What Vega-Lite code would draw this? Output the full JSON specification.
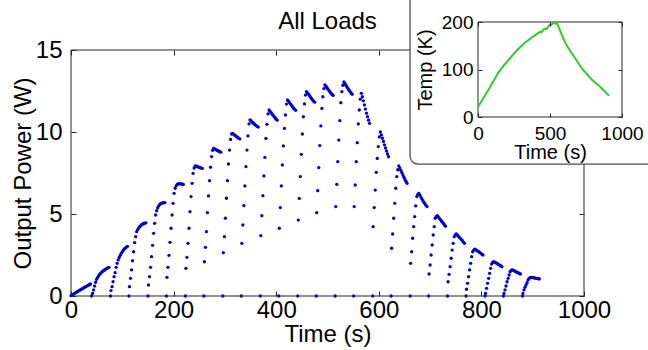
{
  "$schema": "https://vega.github.io/schema/vega-lite/v6.json",
  "width": 513,
  "height": 246,
  "autosize": {"type": "none"},
  "padding": {"left": 71, "top": 50, "right": 64, "bottom": 54},
  "background": "#ffffff",
  "config": {
    "view": {"stroke": null},
    "font": "Liberation Sans",
    "axis": {"grid": false, "domain": false, "labelColor": "#000000", "titleColor": "#000000", "titleFontWeight": "normal", "tickColor": "#262626", "tickWidth": 1, "labelFont": "Liberation Sans", "titleFont": "Liberation Sans", "labelFlush": false, "labelOverlap": false, "format": "d"}
  },
  "datasets": {
    "power": [
      {"t":0,"p":0.02},{"t":2,"p":0.06},{"t":4,"p":0.1},{"t":6,"p":0.14},{"t":8,"p":0.18},{"t":10,"p":0.22},{"t":12,"p":0.26},{"t":14,"p":0.3},{"t":16,"p":0.33},{"t":18,"p":0.37},{"t":20,"p":0.41},{"t":22,"p":0.44},{"t":24,"p":0.48},{"t":26,"p":0.52},{"t":28,"p":0.56},{"t":30,"p":0.59},{"t":32,"p":0.63},{"t":34,"p":0.66},{"t":36,"p":0.7},{"t":38,"p":0.73},
      {"t":40,"p":0},{"t":42,"p":0.16},{"t":44,"p":0.37},{"t":46,"p":0.61},{"t":48,"p":0.84},{"t":50,"p":1.02},{"t":52,"p":1.14},{"t":54,"p":1.24},{"t":56,"p":1.33},{"t":58,"p":1.4},{"t":60,"p":1.46},{"t":62,"p":1.51},{"t":64,"p":1.56},{"t":66,"p":1.6},{"t":68,"p":1.64},{"t":70,"p":1.68},{"t":72,"p":1.72},{"t":74,"p":1.75},
      {"t":77,"p":0},{"t":78,"p":0.33},{"t":80,"p":0.57},{"t":82,"p":0.87},{"t":84,"p":1.18},{"t":86,"p":1.42},{"t":88,"p":1.75},{"t":90,"p":1.99},{"t":92,"p":2.2},{"t":94,"p":2.35},{"t":96,"p":2.48},{"t":98,"p":2.6},{"t":100,"p":2.7},{"t":102,"p":2.79},{"t":104,"p":2.87},{"t":106,"p":2.93},{"t":108,"p":2.98},{"t":110,"p":3.03},
      {"t":113,"p":0},{"t":114,"p":0.57},{"t":116,"p":1.08},{"t":118,"p":1.59},{"t":120,"p":2.15},{"t":122,"p":2.7},{"t":124,"p":3.25},{"t":126,"p":3.62},{"t":128,"p":3.92},{"t":130,"p":4.05},{"t":132,"p":4.15},{"t":134,"p":4.23},{"t":136,"p":4.3},{"t":138,"p":4.35},{"t":140,"p":4.39},{"t":142,"p":4.42},{"t":144,"p":4.44},{"t":146,"p":4.46},
      {"t":150,"p":0},{"t":151,"p":0.67},{"t":153,"p":1.18},{"t":155,"p":1.75},{"t":157,"p":2.4},{"t":159,"p":3.09},{"t":161,"p":3.82},{"t":163,"p":4.43},{"t":165,"p":4.94},{"t":167,"p":5.2},{"t":169,"p":5.38},{"t":171,"p":5.5},{"t":173,"p":5.58},{"t":175,"p":5.63},{"t":177,"p":5.66},{"t":179,"p":5.68},{"t":181,"p":5.69},{"t":183,"p":5.69},
      {"t":186,"p":0},{"t":187,"p":1.14},{"t":189,"p":1.75},{"t":191,"p":2.48},{"t":193,"p":3.27},{"t":195,"p":4.13},{"t":197,"p":4.94},{"t":199,"p":5.65},{"t":201,"p":6.26},{"t":203,"p":6.57},{"t":205,"p":6.72},{"t":207,"p":6.8},{"t":209,"p":6.84},{"t":211,"p":6.85},{"t":213,"p":6.84},{"t":215,"p":6.83},{"t":217,"p":6.82},{"t":219,"p":6.8},
      {"t":223,"p":0},{"t":224,"p":1.69},{"t":226,"p":2.36},{"t":228,"p":3.21},{"t":230,"p":4.13},{"t":232,"p":5.14},{"t":234,"p":6.06},{"t":236,"p":6.87},{"t":238,"p":7.48},{"t":240,"p":7.8},{"t":242,"p":7.93},{"t":244,"p":7.92},{"t":246,"p":7.9},{"t":248,"p":7.87},{"t":250,"p":7.84},{"t":252,"p":7.82},{"t":254,"p":7.8},{"t":256,"p":7.78},
      {"t":259,"p":0},{"t":260,"p":2.09},{"t":262,"p":2.97},{"t":264,"p":3.92},{"t":266,"p":5.08},{"t":268,"p":6.1},{"t":270,"p":7.03},{"t":272,"p":7.85},{"t":274,"p":8.5},{"t":276,"p":8.88},{"t":278,"p":9.0},{"t":280,"p":8.97},{"t":282,"p":8.94},{"t":284,"p":8.9},{"t":286,"p":8.86},{"t":288,"p":8.83},{"t":290,"p":8.8},{"t":292,"p":8.77},
      {"t":296,"p":0},{"t":297,"p":2.64},{"t":299,"p":3.62},{"t":301,"p":4.74},{"t":303,"p":5.96},{"t":305,"p":7.03},{"t":307,"p":8.05},{"t":309,"p":8.9},{"t":311,"p":9.55},{"t":313,"p":9.88},{"t":315,"p":9.92},{"t":317,"p":9.87},{"t":319,"p":9.81},{"t":321,"p":9.76},{"t":323,"p":9.71},{"t":325,"p":9.66},{"t":327,"p":9.62},{"t":329,"p":9.58},
      {"t":332,"p":0},{"t":333,"p":3.21},{"t":335,"p":4.33},{"t":337,"p":5.51},{"t":339,"p":6.71},{"t":341,"p":7.89},{"t":343,"p":8.9},{"t":345,"p":9.76},{"t":347,"p":10.5},{"t":349,"p":10.73},{"t":351,"p":10.67},{"t":353,"p":10.61},{"t":355,"p":10.55},{"t":357,"p":10.49},{"t":359,"p":10.44},{"t":361,"p":10.39},{"t":363,"p":10.34},{"t":365,"p":10.3},
      {"t":369,"p":0},{"t":370,"p":3.68},{"t":372,"p":4.9},{"t":374,"p":6.12},{"t":376,"p":7.32},{"t":378,"p":8.45},{"t":380,"p":9.61},{"t":382,"p":10.47},{"t":384,"p":11.1},{"t":386,"p":11.34},{"t":388,"p":11.26},{"t":390,"p":11.18},{"t":392,"p":11.1},{"t":394,"p":11.02},{"t":396,"p":10.94},{"t":398,"p":10.86},{"t":400,"p":10.78},{"t":402,"p":10.72},
      {"t":405,"p":0},{"t":406,"p":4.13},{"t":408,"p":5.39},{"t":410,"p":6.71},{"t":412,"p":7.99},{"t":414,"p":9.15},{"t":416,"p":10.22},{"t":418,"p":11.04},{"t":420,"p":11.7},{"t":422,"p":11.95},{"t":424,"p":11.87},{"t":426,"p":11.79},{"t":428,"p":11.7},{"t":430,"p":11.62},{"t":432,"p":11.53},{"t":434,"p":11.45},{"t":436,"p":11.38},{"t":438,"p":11.32},
      {"t":442,"p":0},{"t":443,"p":4.63},{"t":445,"p":5.95},{"t":447,"p":7.28},{"t":449,"p":8.64},{"t":451,"p":9.88},{"t":453,"p":10.93},{"t":455,"p":11.71},{"t":457,"p":12.25},{"t":459,"p":12.46},{"t":461,"p":12.38},{"t":463,"p":12.3},{"t":465,"p":12.21},{"t":467,"p":12.12},{"t":469,"p":12.03},{"t":471,"p":11.95},{"t":473,"p":11.88},{"t":475,"p":11.82},
      {"t":478,"p":0},{"t":479,"p":5.08},{"t":481,"p":6.42},{"t":483,"p":7.83},{"t":485,"p":9.17},{"t":487,"p":10.37},{"t":489,"p":11.44},{"t":491,"p":12.15},{"t":493,"p":12.65},{"t":495,"p":12.87},{"t":497,"p":12.79},{"t":499,"p":12.7},{"t":501,"p":12.61},{"t":503,"p":12.52},{"t":505,"p":12.44},{"t":507,"p":12.36},{"t":509,"p":12.29},{"t":511,"p":12.23},
      {"t":515,"p":0},{"t":516,"p":5.45},{"t":518,"p":6.81},{"t":520,"p":8.19},{"t":522,"p":9.51},{"t":524,"p":10.69},{"t":526,"p":11.79},{"t":528,"p":12.46},{"t":530,"p":12.85},{"t":532,"p":13.05},{"t":534,"p":12.95},{"t":536,"p":12.85},{"t":538,"p":12.75},{"t":540,"p":12.65},{"t":542,"p":12.55},{"t":544,"p":12.46},{"t":546,"p":12.38},{"t":548,"p":12.3},
      {"t":551,"p":0},{"t":552,"p":5.45},{"t":554,"p":6.77},{"t":556,"p":8.19},{"t":558,"p":9.35},{"t":560,"p":10.49},{"t":562,"p":11.34},{"t":564,"p":12.0},{"t":566,"p":12.36},{"t":568,"p":12.15},{"t":570,"p":11.9},{"t":572,"p":11.65},{"t":574,"p":11.4},{"t":576,"p":11.15},{"t":578,"p":10.93},{"t":580,"p":10.72},{"t":582,"p":10.53},
      {"t":588,"p":0},{"t":589,"p":4.23},{"t":591,"p":5.39},{"t":593,"p":6.46},{"t":595,"p":7.54},{"t":597,"p":8.39},{"t":599,"p":9.11},{"t":601,"p":9.7},{"t":603,"p":10.0},{"t":605,"p":9.82},{"t":607,"p":9.62},{"t":609,"p":9.42},{"t":611,"p":9.22},{"t":613,"p":9.03},{"t":615,"p":8.84},{"t":617,"p":8.66},{"t":619,"p":8.49},
      {"t":624,"p":0},{"t":625,"p":2.91},{"t":627,"p":3.78},{"t":629,"p":4.74},{"t":631,"p":5.65},{"t":633,"p":6.57},{"t":635,"p":7.28},{"t":637,"p":7.7},{"t":639,"p":7.93},{"t":641,"p":7.8},{"t":643,"p":7.66},{"t":645,"p":7.52},{"t":647,"p":7.38},{"t":649,"p":7.24},{"t":651,"p":7.11},{"t":653,"p":6.99},{"t":655,"p":6.87},
      {"t":661,"p":0},{"t":662,"p":1.99},{"t":664,"p":2.7},{"t":666,"p":3.52},{"t":668,"p":4.23},{"t":670,"p":4.84},{"t":672,"p":5.49},{"t":674,"p":6.06},{"t":676,"p":6.2},{"t":678,"p":6.26},{"t":680,"p":6.15},{"t":682,"p":6.03},{"t":684,"p":5.92},{"t":686,"p":5.81},{"t":688,"p":5.71},{"t":690,"p":5.62},{"t":692,"p":5.53},{"t":694,"p":5.45},
      {"t":697,"p":0},{"t":698,"p":1.34},{"t":700,"p":1.89},{"t":702,"p":2.5},{"t":704,"p":3.11},{"t":706,"p":3.72},{"t":708,"p":4.23},{"t":710,"p":4.74},{"t":712,"p":4.85},{"t":714,"p":4.9},{"t":716,"p":4.82},{"t":718,"p":4.74},{"t":720,"p":4.66},{"t":722,"p":4.58},{"t":724,"p":4.5},{"t":726,"p":4.42},{"t":728,"p":4.34},{"t":730,"p":4.26},
      {"t":734,"p":0},{"t":735,"p":0.87},{"t":737,"p":1.32},{"t":739,"p":1.79},{"t":741,"p":2.3},{"t":743,"p":2.8},{"t":745,"p":3.21},{"t":747,"p":3.62},{"t":749,"p":3.72},{"t":751,"p":3.78},{"t":753,"p":3.72},{"t":755,"p":3.65},{"t":757,"p":3.58},{"t":759,"p":3.51},{"t":761,"p":3.44},{"t":763,"p":3.37},{"t":765,"p":3.29},{"t":767,"p":3.21},
      {"t":770,"p":0},{"t":771,"p":0.41},{"t":773,"p":0.77},{"t":775,"p":1.18},{"t":777,"p":1.59},{"t":779,"p":1.99},{"t":781,"p":2.4},{"t":783,"p":2.7},{"t":785,"p":2.8},{"t":787,"p":2.85},{"t":789,"p":2.82},{"t":791,"p":2.78},{"t":793,"p":2.74},{"t":795,"p":2.7},{"t":797,"p":2.65},{"t":799,"p":2.6},{"t":801,"p":2.55},{"t":803,"p":2.5},
      {"t":807,"p":0},{"t":808,"p":0.16},{"t":810,"p":0.47},{"t":812,"p":0.77},{"t":814,"p":1.08},{"t":816,"p":1.38},{"t":818,"p":1.69},{"t":820,"p":1.95},{"t":822,"p":2.05},{"t":824,"p":2.09},{"t":826,"p":2.07},{"t":828,"p":2.03},{"t":830,"p":1.99},{"t":832,"p":1.95},{"t":834,"p":1.91},{"t":836,"p":1.87},{"t":838,"p":1.83},{"t":840,"p":1.79},
      {"t":843,"p":0},{"t":844,"p":0.16},{"t":846,"p":0.37},{"t":848,"p":0.61},{"t":850,"p":0.87},{"t":852,"p":1.08},{"t":854,"p":1.28},{"t":856,"p":1.48},{"t":858,"p":1.56},{"t":860,"p":1.59},{"t":862,"p":1.57},{"t":864,"p":1.54},{"t":866,"p":1.5},{"t":868,"p":1.47},{"t":870,"p":1.44},{"t":872,"p":1.41},{"t":874,"p":1.37},{"t":876,"p":1.34},
      {"t":880,"p":0},{"t":881,"p":0.16},{"t":883,"p":0.37},{"t":885,"p":0.53},{"t":887,"p":0.67},{"t":889,"p":0.81},{"t":891,"p":0.98},{"t":893,"p":1.08},{"t":895,"p":1.12},{"t":897,"p":1.14},{"t":899,"p":1.13},{"t":901,"p":1.12},{"t":903,"p":1.1},{"t":905,"p":1.09},{"t":907,"p":1.08},{"t":909,"p":1.07},{"t":911,"p":1.05},{"t":913,"p":1.04}
    ],
    "temp": [
      {"t":0,"T":21},{"t":20,"T":31},{"t":40,"T":41},{"t":60,"T":51},{"t":80,"T":61},{"t":100,"T":72},{"t":120,"T":82},{"t":140,"T":93},{"t":160,"T":101},{"t":180,"T":109},{"t":200,"T":116},{"t":220,"T":123},{"t":240,"T":130},{"t":260,"T":137},{"t":280,"T":143},{"t":300,"T":149},{"t":320,"T":155},{"t":340,"T":160},{"t":360,"T":164},{"t":380,"T":169},{"t":400,"T":173},{"t":420,"T":177},{"t":430,"T":179},{"t":440,"T":178},{"t":455,"T":184},{"t":465,"T":186},{"t":475,"T":185},{"t":490,"T":191},{"t":500,"T":195},{"t":510,"T":194},{"t":520,"T":197},{"t":530,"T":199},{"t":540,"T":196},{"t":550,"T":197},{"t":560,"T":189},{"t":575,"T":178},{"t":590,"T":167},{"t":605,"T":157},{"t":620,"T":149},{"t":640,"T":139},{"t":660,"T":130},{"t":680,"T":121},{"t":700,"T":112},{"t":720,"T":103},{"t":740,"T":96},{"t":760,"T":89},{"t":780,"T":82},{"t":800,"T":76},{"t":820,"T":71},{"t":840,"T":66},{"t":860,"T":60},{"t":880,"T":54},{"t":900,"T":48},{"t":910,"T":45}
    ]
  },
  "resolve": {"scale": {"x": "independent", "y": "independent"}},
  "layer": [
    {
      "layer": [
        {
          "data": {"name": "power"},
          "mark": {"type": "point", "filled": true, "size": 11, "color": "#0000cc", "opacity": 1},
          "encoding": {
            "x": {"field": "t", "type": "quantitative", "scale": {"domain": [0, 1000], "nice": false, "zero": false},
                  "axis": {"orient": "bottom", "values": [0, 200, 400, 600, 800, 1000], "title": "Time (s)", "labelFontSize": 24, "titleFontSize": 24, "tickSize": -5, "labelPadding": 7, "titlePadding": 0}},
            "y": {"field": "p", "type": "quantitative", "scale": {"domain": [0, 15], "nice": false, "zero": false},
                  "axis": {"orient": "left", "values": [0, 5, 10, 15], "title": "Output Power (W)", "labelFontSize": 24, "titleFontSize": 24, "tickSize": -5, "labelPadding": 14, "titlePadding": 0}}
          }
        },
        {
          "data": {"values": [{}]},
          "mark": {"type": "rect", "filled": false, "stroke": "#262626", "strokeWidth": 1},
          "encoding": {
            "x": {"datum": 0, "type": "quantitative", "scale": {"domain": [0, 1000], "nice": false, "zero": false},
                  "axis": {"orient": "top", "values": [0, 200, 400, 600, 800, 1000], "labels": false, "title": null, "tickSize": -5}},
            "x2": {"datum": 1000},
            "y": {"datum": 0, "type": "quantitative", "scale": {"domain": [0, 15], "nice": false, "zero": false},
                  "axis": {"orient": "right", "values": [0, 5, 10, 15], "labels": false, "title": null, "tickSize": -5}},
            "y2": {"datum": 15}
          }
        },
        {
          "data": {"values": [{}]},
          "mark": {"type": "text", "text": "All Loads", "fontSize": 24, "font": "Liberation Sans", "baseline": "alphabetic", "align": "center", "dy": -21, "color": "#000000"},
          "encoding": {
            "x": {"datum": 500, "type": "quantitative", "axis": null},
            "y": {"datum": 15, "type": "quantitative", "axis": null}
          }
        }
      ]
    },
    {
      "layer": [
        {
          "data": {"values": [{}]},
          "mark": {"type": "rect", "fill": "#ffffff", "stroke": "#4d4d4d", "strokeWidth": 1.3, "cornerRadius": 8},
          "encoding": {
            "x": {"datum": -472, "type": "quantitative", "scale": {"domain": [0, 1000], "range": [407, 551], "nice": false, "zero": false}, "axis": null},
            "x2": {"datum": 1264},
            "y": {"datum": -99, "type": "quantitative", "scale": {"domain": [0, 200], "range": [67, -28], "nice": false, "zero": false}, "axis": null},
            "y2": {"datum": 267}
          }
        },
        {
          "data": {"values": [{}]},
          "mark": {"type": "rect", "filled": false, "stroke": "#262626", "strokeWidth": 1},
          "encoding": {
            "x": {"datum": 0, "type": "quantitative", "scale": {"domain": [0, 1000], "range": [407, 551], "nice": false, "zero": false},
                  "axis": {"orient": "top", "offset": 28, "values": [0, 500, 1000], "labels": false, "title": null, "tickSize": -4, "zindex": 1}},
            "x2": {"datum": 1000},
            "y": {"datum": 0, "type": "quantitative", "scale": {"domain": [0, 200], "range": [67, -28], "nice": false, "zero": false},
                  "axis": {"orient": "right", "offset": 38, "values": [0, 100, 200], "labels": false, "title": null, "tickSize": -4, "zindex": 1}},
            "y2": {"datum": 200}
          }
        },
        {
          "data": {"name": "temp"},
          "mark": {"type": "line", "color": "#2ecc2e", "strokeWidth": 2},
          "encoding": {
            "x": {"field": "t", "type": "quantitative", "scale": {"domain": [0, 1000], "range": [407, 551], "nice": false, "zero": false},
                  "axis": {"orient": "bottom", "offset": -179, "values": [0, 500, 1000], "title": "Time (s)", "labelFontSize": 19, "titleFontSize": 20, "tickSize": -4, "labelPadding": 11, "titlePadding": -1, "zindex": 1}},
            "y": {"field": "T", "type": "quantitative", "scale": {"domain": [0, 200], "range": [67, -28], "nice": false, "zero": false},
                  "axis": {"orient": "left", "offset": -407, "values": [0, 100, 200], "title": "Temp (K)", "labelFontSize": 19, "titleFontSize": 20, "tickSize": -4, "labelPadding": 9, "titlePadding": 6, "zindex": 1}}
          }
        }
      ]
    }
  ]
}
